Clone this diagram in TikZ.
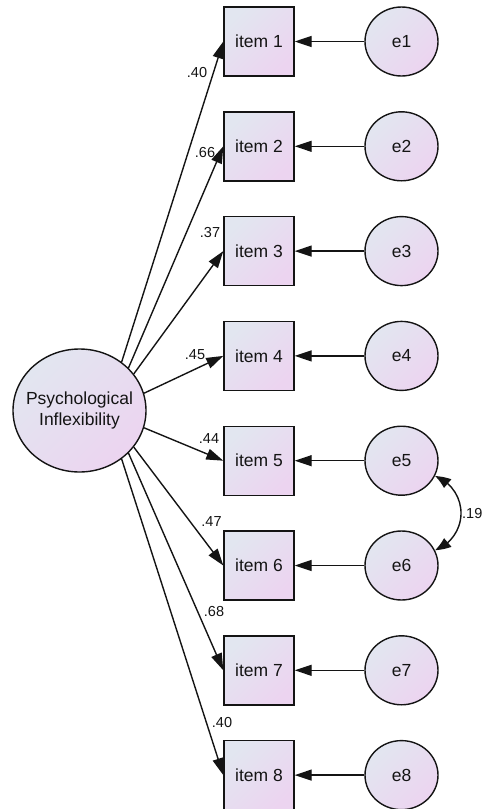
\documentclass[tikz,border=0pt]{standalone}
\usepackage{fontspec}
\setmainfont{Liberation Sans}
\usetikzlibrary{arrows.meta,shapes.geometric,bending}
\definecolor{fillA}{RGB}{226,230,240}
\definecolor{fillB}{RGB}{236,212,240}
\definecolor{ink}{RGB}{20,20,20}
\begin{document}
\begin{tikzpicture}[x=1pt,y=1pt,
  shapefill/.style={draw=ink, line width=1.4pt, top color=fillA, bottom color=fillB, shading angle=45},
  lat/.style={shapefill, ellipse, minimum width=133pt, minimum height=123pt, inner sep=0pt},
  lattext/.style={inner sep=0pt, align=center, text=ink, font=\fontsize{17.5}{21}\selectfont},
  obs/.style={shapefill, rectangle, minimum width=70pt, minimum height=69pt, inner sep=0pt, text=ink, font=\fontsize{17.5}{20}\selectfont},
  err/.style={shapefill, ellipse, minimum width=73pt, minimum height=69pt, inner sep=0pt, text=ink, font=\fontsize{17.5}{20}\selectfont},
  arr/.style={draw=ink, line width=1.4pt, -{Triangle[length=17pt,width=11pt]}},
  arr2/.style={draw=ink, line width=1.4pt, {Triangle[length=15pt,width=11pt,bend]}-{Triangle[length=15pt,width=11pt,bend]}},
  lbl/.style={inner sep=0pt, font=\fontsize{14.5}{16}\selectfont, text=ink}
]
\useasboundingbox (0,0) rectangle (486,-809);

\node[lat] (P) at (79.5,-410.5) {};
\node[lattext] (Ptext) at (P.center) {Psychological\\Inflexibility};

\node[obs] (i1) at (259,-41.5) {item 1};
\node[obs] (i2) at (259,-146.3) {item 2};
\node[obs] (i3) at (259,-251.1) {item 3};
\node[obs] (i4) at (259,-355.9) {item 4};
\node[obs] (i5) at (259,-460.7) {item 5};
\node[obs] (i6) at (259,-565.5) {item 6};
\node[obs] (i7) at (259,-670.3) {item 7};
\node[obs] (i8) at (259,-775.1) {item 8};

\node[err] (e1) at (401.5,-41.5) {e1};
\node[err] (e2) at (401.5,-146.3) {e2};
\node[err] (e3) at (401.5,-251.1) {e3};
\node[err] (e4) at (401.5,-355.9) {e4};
\node[err] (e5) at (401.5,-460.7) {e5};
\node[err] (e6) at (401.5,-565.5) {e6};
\node[err] (e7) at (401.5,-670.3) {e7};
\node[err] (e8) at (401.5,-775.1) {e8};

\foreach \k in {1,...,8} {\draw[arr] (e\k.west) -- (i\k.west -| i\k.east);}

\draw[arr] (P.49) -- (i1.west);
\draw[arr] (P.41) -- (i2.west);
\draw[arr] (P.34) -- (i3.west);
\draw[arr] (P.15) -- (i4.west);
\draw[arr] (P.-15) -- (i5.west);
\draw[arr] (P.-34) -- (i6.west);
\draw[arr] (P.-41) -- (i7.west);
\draw[arr] (P.-49) -- (i8.west);

\node[lbl] (l1) at (197,-73) {.40};
\node[lbl] (l2) at (205,-153) {.66};
\node[lbl] (l3) at (210,-233) {.37};
\node[lbl] (l4) at (195,-355) {.45};
\node[lbl] (l5) at (209,-439) {.44};
\node[lbl] (l6) at (211.5,-521.5) {.47};
\node[lbl] (l7) at (214,-612) {.68};
\node[lbl] (l8) at (222,-722) {.40};

\coordinate (cc) at (421.7,-513.1);
\draw[arr2] ([shift={(70.2:39.3)}]cc) arc[start angle=70.2, end angle=-70.2, radius=39.3];
\node[lbl, anchor=west] (c56) at (462,-513.5) {.19};
\end{tikzpicture}
\end{document}
